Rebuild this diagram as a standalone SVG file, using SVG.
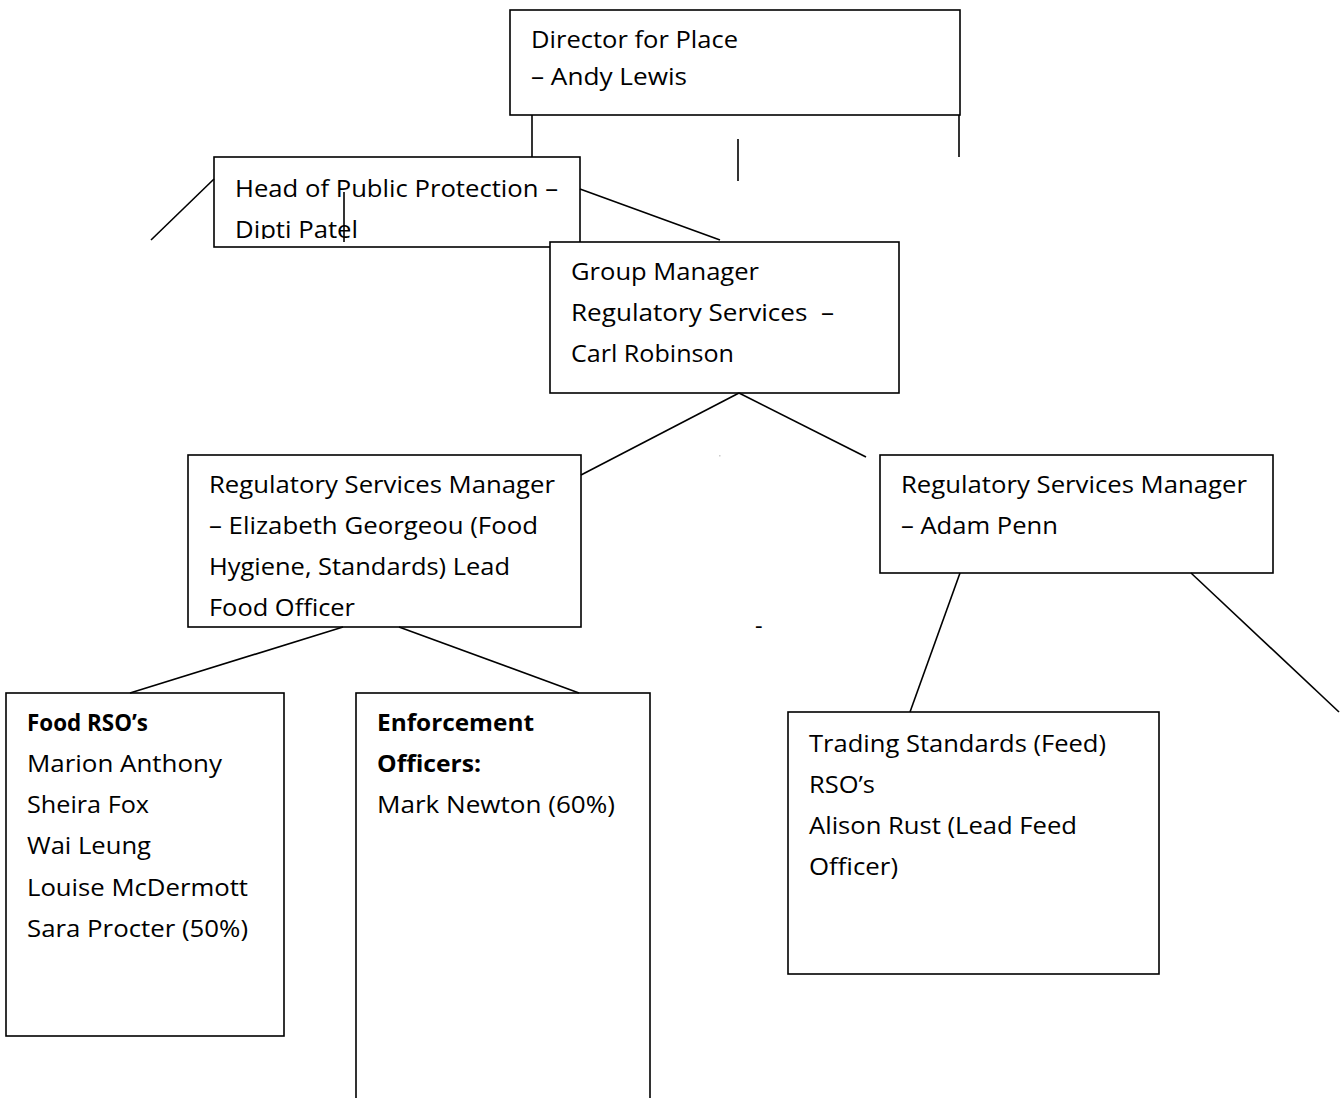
<svg xmlns="http://www.w3.org/2000/svg" width="1340" height="1098" viewBox="0 0 1340 1098">
<style>
.box{fill:#fff;stroke:#000;stroke-width:1.6}
.t{font-family:"Open Sans","Liberation Sans",sans-serif;font-size:23.5px;fill:#000}
.b{font-weight:bold}
.c{stroke:#000;stroke-width:1.6;fill:none}
</style>
<defs>
<clipPath id="headclip"><rect x="214" y="157" width="366" height="82"/></clipPath>
</defs>
<rect width="1340" height="1098" fill="#fff"/>
<g id="director">
<rect class="box" x="510" y="10" width="450" height="105"/>
<text class="t" x="531" y="48" textLength="207" lengthAdjust="spacingAndGlyphs">Director for Place</text>
<text class="t" x="531" y="85" textLength="156" lengthAdjust="spacingAndGlyphs">– Andy Lewis</text>
</g>
<g id="head">
<rect class="box" x="214" y="157" width="366" height="90"/>
<g clip-path="url(#headclip)">
<text class="t" x="235" y="197" textLength="323" lengthAdjust="spacingAndGlyphs">Head of Public Protection –</text>
<text class="t" x="235" y="238" textLength="123" lengthAdjust="spacingAndGlyphs">Dipti Patel</text>
</g>
</g>
<g id="group">
<rect class="box" x="550" y="242" width="349" height="151"/>
<text class="t" x="571" y="280" textLength="188" lengthAdjust="spacingAndGlyphs">Group Manager</text>
<text class="t" x="571" y="321" textLength="263" lengthAdjust="spacingAndGlyphs">Regulatory Services&#160; –</text>
<text class="t" x="571" y="362" textLength="163" lengthAdjust="spacingAndGlyphs">Carl Robinson</text>
</g>
<g id="elizabeth">
<rect class="box" x="188" y="455" width="393" height="172"/>
<text class="t" x="209" y="493" textLength="346" lengthAdjust="spacingAndGlyphs">Regulatory Services Manager</text>
<text class="t" x="209" y="534" textLength="329" lengthAdjust="spacingAndGlyphs">– Elizabeth Georgeou (Food</text>
<text class="t" x="209" y="575" textLength="301" lengthAdjust="spacingAndGlyphs">Hygiene, Standards) Lead</text>
<text class="t" x="209" y="616" textLength="146" lengthAdjust="spacingAndGlyphs">Food Officer</text>
</g>
<g id="adam">
<rect class="box" x="880" y="455" width="393" height="118"/>
<text class="t" x="901" y="493" textLength="346" lengthAdjust="spacingAndGlyphs">Regulatory Services Manager</text>
<text class="t" x="901" y="534" textLength="157" lengthAdjust="spacingAndGlyphs">– Adam Penn</text>
</g>
<g id="food-rso">
<rect class="box" x="6" y="693" width="278" height="343"/>
<text class="t b" x="27" y="731" textLength="121" lengthAdjust="spacingAndGlyphs">Food RSO’s</text>
<text class="t" x="27" y="772" textLength="195" lengthAdjust="spacingAndGlyphs">Marion Anthony</text>
<text class="t" x="27" y="813" textLength="122" lengthAdjust="spacingAndGlyphs">Sheira Fox</text>
<text class="t" x="27" y="854" textLength="124" lengthAdjust="spacingAndGlyphs">Wai Leung</text>
<text class="t" x="27" y="896" textLength="221" lengthAdjust="spacingAndGlyphs">Louise McDermott</text>
<text class="t" x="27" y="937" textLength="221" lengthAdjust="spacingAndGlyphs">Sara Procter (50%)</text>
</g>
<g id="enforcement">
<rect class="box" x="356" y="693" width="294" height="430"/>
<text class="t b" x="377" y="731" textLength="157" lengthAdjust="spacingAndGlyphs">Enforcement</text>
<text class="t b" x="377" y="772" textLength="104" lengthAdjust="spacingAndGlyphs">Officers:</text>
<text class="t" x="377" y="813" textLength="238" lengthAdjust="spacingAndGlyphs">Mark Newton (60%)</text>
</g>
<g id="trading">
<rect class="box" x="788" y="712" width="371" height="262"/>
<text class="t" x="809" y="752" textLength="297" lengthAdjust="spacingAndGlyphs">Trading Standards (Feed)</text>
<text class="t" x="809" y="793" textLength="66" lengthAdjust="spacingAndGlyphs">RSO’s</text>
<text class="t" x="809" y="834" textLength="268" lengthAdjust="spacingAndGlyphs">Alison Rust (Lead Feed</text>
<text class="t" x="809" y="875" textLength="89" lengthAdjust="spacingAndGlyphs">Officer)</text>
</g>
<g id="marks">
<text class="t" x="755" y="634">-</text>
<rect x="719" y="455" width="1.5" height="1.5" fill="#ccc"/>
</g>
<g id="connectors">
<line class="c" x1="959" y1="115" x2="959" y2="157"/>
<line class="c" x1="532" y1="115" x2="532" y2="157"/>
<line class="c" x1="738" y1="139" x2="738" y2="181"/>
<line class="c" x1="151" y1="240" x2="214" y2="179"/>
<line class="c" x1="580" y1="189" x2="720" y2="240"/>
<line class="c" x1="344" y1="192" x2="344" y2="242"/>
<line class="c" x1="739" y1="393" x2="581" y2="475"/>
<line class="c" x1="739" y1="393" x2="866" y2="457"/>
<line class="c" x1="343" y1="627" x2="130" y2="693"/>
<line class="c" x1="399" y1="627" x2="579" y2="693"/>
<line class="c" x1="960" y1="573" x2="910" y2="712"/>
<line class="c" x1="1191" y1="573" x2="1339" y2="712"/>
</g>
</svg>
